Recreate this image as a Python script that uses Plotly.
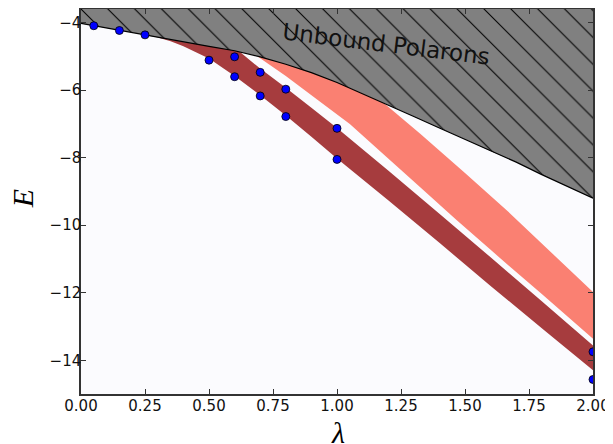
import plotly.graph_objects as go

# ---- data ----
# boundary of the unbound-polaron region
bound_lam = [0.0, 0.1, 0.2, 0.3, 0.4, 0.5, 0.6, 0.7, 0.8, 0.9, 1.0, 1.1, 1.2,
             1.3, 1.4, 1.5, 1.6, 1.7, 1.8, 1.9, 2.0]
bound_E = [-4.02, -4.16, -4.29, -4.44, -4.58, -4.70, -4.83, -5.01, -5.23, -5.48,
           -5.77, -6.10, -6.44, -6.78, -7.12, -7.45, -7.80, -8.13, -8.50, -8.85, -9.20]

# dark red band (upper / lower edges)
dark_up_lam = [0.30, 0.39, 0.5, 0.62, 0.7, 0.8, 0.9, 1.0, 1.2, 1.4, 1.6, 1.8, 2.0]
dark_up_E = [-2.96, -3.50, -4.15, -4.86, -5.36, -5.93, -6.52, -7.12, -8.38, -9.66,
             -10.95, -12.25, -13.56]
dark_lo_lam = [0.30, 0.35, 0.4, 0.5, 0.6, 0.7, 0.8, 0.9, 1.0, 1.2, 1.4, 1.6, 1.8, 2.0]
dark_lo_E = [-4.44, -4.55, -4.70, -5.06, -5.58, -6.15, -6.75, -7.38, -8.02, -9.26,
             -10.52, -11.80, -13.05, -14.30]

# salmon band (upper / lower edges)
salm_up_lam = [0.69, 0.8, 1.0, 1.1, 1.17, 1.324, 1.5, 1.676, 2.0]
salm_up_E = [-4.50, -4.60, -5.20, -5.80, -6.30, -7.28, -8.45, -9.65, -11.98]
salm_lo_lam = [0.69, 0.8, 0.934, 1.05, 1.2, 1.324, 1.468, 1.6, 1.8, 2.0]
salm_lo_E = [-5.00, -5.58, -6.34, -7.00, -8.02, -8.87, -9.85, -10.73, -12.04, -13.36]

# computed points
dot_lam = [0.05, 0.15, 0.25, 0.5, 0.6, 0.6, 0.7, 0.7, 0.8, 0.8, 1.0, 1.0, 2.0, 2.0]
dot_E = [-4.09, -4.23, -4.36, -5.11, -5.01, -5.60, -5.47, -6.17, -5.97, -6.78,
         -7.13, -8.05, -13.75, -14.57]

x_ticks = [0.0, 0.25, 0.5, 0.75, 1.0, 1.25, 1.5, 1.75, 2.0]
y_ticks = [-14, -12, -10, -8, -6, -4]
TOP = -3.0

fig = go.Figure()

# dark red band
fig.add_trace(go.Scatter(
    x=dark_up_lam + dark_lo_lam[::-1], y=dark_up_E + dark_lo_E[::-1],
    fill="toself", fillcolor="#A63C3E", mode="none", hoverinfo="skip"))
# salmon band
fig.add_trace(go.Scatter(
    x=salm_up_lam + salm_lo_lam[::-1], y=salm_up_E + salm_lo_E[::-1],
    fill="toself", fillcolor="#FA8072", mode="none", hoverinfo="skip"))
# unbound region (hatched)
fig.add_trace(go.Scatter(
    x=bound_lam + [bound_lam[-1], bound_lam[0]], y=bound_E + [TOP, TOP],
    fill="toself", fillcolor="#808080", mode="none", hoverinfo="skip",
    fillpattern=dict(shape="\\", bgcolor="#808080", fgcolor="black",
                     fgopacity=1, size=19, solidity=0.055)))
# boundary line
fig.add_trace(go.Scatter(x=bound_lam, y=bound_E, mode="lines",
                         line=dict(color="black", width=1.2)))
# points
fig.add_trace(go.Scatter(x=dot_lam, y=dot_E, mode="markers",
                         marker=dict(color="#0000FF", size=8,
                                     line=dict(color="black", width=0.8))))

fig.add_annotation(x=1.19, y=-4.63, text="Unbound Polarons", showarrow=False,
                   textangle=7, font=dict(family="DejaVu Sans", size=23, color="#111"))

# axis labels
fig.add_annotation(x=-0.115, y=0.506, xref="paper", yref="paper", text="<i>E</i>",
                   showarrow=False, textangle=-90, xanchor="center", yanchor="middle",
                   font=dict(family="Liberation Serif", size=30, color="black"))
fig.add_annotation(x=0.502, y=-0.1, xref="paper", yref="paper", text="<i>λ</i>",
                   showarrow=False, xanchor="center", yanchor="middle",
                   font=dict(family="Liberation Serif", size=30, color="black"))

axis_common = dict(showline=True, linecolor="#333", linewidth=1.5, mirror="ticks",
                   ticks="inside", ticklen=5, tickwidth=1, tickcolor="#333",
                   showgrid=False, zeroline=False, automargin=False,
                   tickfont=dict(family="DejaVu Sans", size=15, color="#111"))

# the page body adds an 8 px offset, so the figure is sized to compensate
fig.update_layout(
    width=605, height=436,
    margin=dict(l=73, r=20, t=1, b=50),
    paper_bgcolor="white", plot_bgcolor="#FBFBFE",
    showlegend=False,
    xaxis=dict(range=[0, 2], tickvals=x_ticks, tickformat=".2f",
               ticklabelstandoff=-3, **axis_common),
    yaxis=dict(range=[-15, -3.594], tickvals=y_ticks, ticklabelstandoff=-5,
               **axis_common),
)

fig.write_html("out.html")
